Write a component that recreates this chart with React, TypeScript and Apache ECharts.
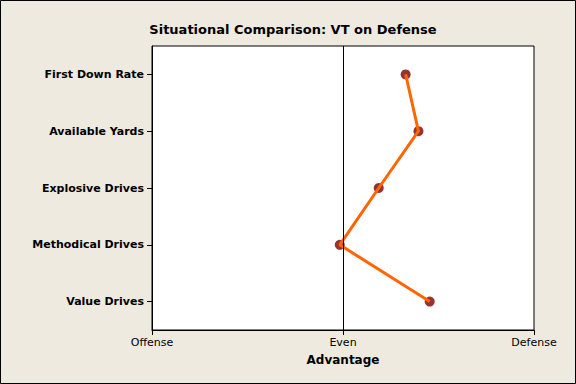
import React, { useEffect, useRef } from "react";
import * as echarts from "echarts";

const categories = ["First Down Rate", "Available Yards", "Explosive Drives", "Methodical Drives", "Value Drives"];
const advantageValues = [0.328, 0.395, 0.187, -0.017, 0.454];
const xTickLabels = ["Offense", "Even", "Defense"];

export default function App() {
  const ref = useRef<HTMLDivElement>(null);
  useEffect(() => {
    if (!ref.current) return;
    const chart = echarts.init(ref.current, undefined, { renderer: "svg" });
    const data = advantageValues.map((v, i) => [v, categories[i]]);
    chart.setOption({
      animation: false,
      backgroundColor: "#EEEAE0",
      textStyle: { fontFamily: "DejaVu Sans" },
      title: {
        text: "Situational Comparison: VT on Defense",
        left: 288,
        textAlign: "center",
        top: 18,
        textStyle: { fontSize: 13, fontWeight: "bold", color: "#000", fontFamily: "DejaVu Sans" },
      },
      graphic: [
        {
          type: "rect",
          shape: { x: 0.5, y: 0.5, width: 575, height: 383 },
          style: { fill: "none", stroke: "#000", lineWidth: 1 },
          silent: true,
        },
      ],
      grid: {
        left: 152,
        right: 42,
        top: 46,
        bottom: 54,
        show: true,
        backgroundColor: "#fff",
        borderColor: "#000",
        borderWidth: 1,
      },
      xAxis: {
        type: "value",
        min: -1,
        max: 1,
        interval: 1,
        name: "Advantage",
        nameLocation: "middle",
        nameGap: 24,
        nameTextStyle: { fontSize: 12, fontWeight: "bold", color: "#000" },
        axisLine: { show: true, onZero: false, lineStyle: { color: "#000" } },
        axisTick: { show: true, length: 5, lineStyle: { color: "#000" } },
        axisLabel: {
          fontSize: 11,
          color: "#000",
          margin: 7,
          formatter: (v: number) => xTickLabels[Math.round(v) + 1],
        },
        splitLine: { show: false },
      },
      yAxis: {
        type: "category",
        data: categories,
        inverse: true,
        boundaryGap: true,
        axisLine: { show: true, onZero: false, lineStyle: { color: "#000" } },
        axisTick: { show: true, alignWithLabel: true, length: 5, lineStyle: { color: "#000" } },
        axisLabel: { fontSize: 11, fontWeight: "bold", color: "#000", margin: 8 },
        splitLine: { show: false },
      },
      series: [
        {
          type: "scatter",
          data,
          symbol: "circle",
          symbolSize: 10,
          itemStyle: { color: "#7A0000" },
          z: 2,
          markLine: {
            silent: true,
            symbol: "none",
            label: { show: false },
            lineStyle: { color: "#000", width: 1, type: "solid" },
            data: [{ xAxis: 0 }],
          },
        },
        {
          type: "line",
          data,
          showSymbol: false,
          symbol: "none",
          lineStyle: { color: "#FF6600", width: 3 },
          z: 3,
        },
      ],
    });
    return () => chart.dispose();
  }, []);
  return <div ref={ref} style={{ position: "fixed", left: 0, top: 0, width: 576, height: 384 }} />;
}
